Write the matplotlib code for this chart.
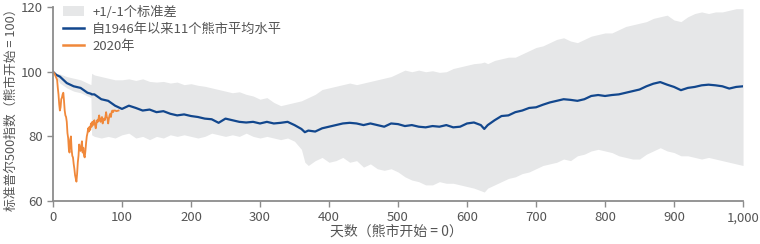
import matplotlib
matplotlib.use("Agg")
import matplotlib.pyplot as plt
from matplotlib import ticker
from matplotlib.patches import Patch
from matplotlib.lines import Line2D

plt.rcParams['font.family'] = ['Noto Sans CJK SC', 'DejaVu Sans']

# +1/-1 标准差区间 (天数, 上限, 下限)
band_days = [0, 5, 10, 20, 30, 40, 50, 55, 56, 60, 70, 80, 90, 100, 110, 120, 130, 140, 150,
             160, 170, 180, 190, 200, 210, 220, 230, 240, 250, 260, 270, 280, 290, 300,
             310, 320, 330, 340, 350, 360, 365, 370, 380, 390, 400, 410, 420, 430, 440,
             450, 460, 470, 480, 490, 500, 510, 520, 530, 540, 550, 560, 570, 580, 590,
             600, 610, 620, 625, 630, 640, 650, 660, 670, 680, 690, 700, 710, 720, 730,
             740, 750, 760, 770, 780, 790, 800, 810, 820, 830, 840, 850, 860, 870, 880,
             890, 900, 910, 920, 930, 940, 950, 960, 970, 980, 990, 1000]
band_upper = [100, 99.5, 99.3, 98.5, 98, 97.5, 96.5, 96, 99.5, 99, 98.5, 98, 97.5, 97.5, 97.8,
              97.3, 97.8, 97, 96.8, 97, 96.5, 96.8, 96, 96.3, 95.8, 95.5, 95, 94.5, 94, 93.5,
              93.8, 93, 92.5, 91.5, 92, 90.5, 89.5, 90, 90.5, 91, 91.5, 92, 93, 94.5, 95,
              95.5, 96, 96.5, 96, 96.5, 97, 97.5, 98, 98.5, 99.5, 100.5, 100, 100.5, 100,
              100.3, 99.8, 100, 101, 101.5, 102, 102.5, 102.7, 103, 102.5, 103.5, 104, 104.5,
              104.5, 105.5, 106.5, 107.5, 108, 109, 110, 110.5, 109.5, 109, 110, 111, 111.5,
              112, 112, 113, 114, 114.5, 115, 115.5, 116.5, 117, 117.5, 116, 115.5, 117, 118,
              118.5, 118, 118.5, 118.5, 119, 119.5, 119.5]
band_lower = [100, 98, 96.5, 95, 94, 93.5, 92.5, 92, 80.5, 80, 79.5, 80, 79.5, 80.5, 81,
              79.5, 80, 79, 80, 79.5, 80.5, 80, 80.5, 80, 79.5, 80, 81, 80.5, 80, 80.5,
              80, 81, 80, 79.5, 80, 79.5, 79, 79.5, 78.5, 76, 72, 71, 72.5, 73.5, 72,
              72.5, 73.5, 72, 72.5, 70.5, 71.5, 70, 69.5, 70, 69, 67.5, 66.5, 66, 65,
              65, 66, 65.5, 65.5, 65, 64.5, 64, 63.2, 62.8, 64, 65, 66, 67, 67.5, 68.5,
              69, 70, 71, 71.5, 72, 73, 72.5, 74, 74.5, 75.5, 76, 75.5, 75, 74, 73.5,
              73, 73, 74.5, 75.5, 76.5, 75.5, 75, 74, 74, 73.5, 73, 73.5, 73, 72.5, 72,
              71.5, 71]

# 自1946年以来11个熊市平均水平
mean_days = band_days
mean_level = [100, 99, 98.5, 96.5, 95.5, 95, 93.5, 93.2, 93, 93, 91.5, 91, 89.5, 88.5, 89.5,
              88.8, 88, 88.3, 87.5, 87.8, 87, 86.5, 86.8, 86.3, 86, 85.5, 85.3, 84.2, 85.5,
              85, 84.5, 84.3, 84.5, 84, 84.5, 84, 84.2, 84.5, 83.5, 82.3, 81.3, 81.8, 81.5,
              82.5, 83, 83.5, 84, 84.2, 84, 83.5, 84, 83.5, 83, 84, 83.8, 83.2, 83.5, 83,
              82.8, 83.2, 83, 83.5, 82.8, 83, 84, 84.3, 83.5, 82.3, 83.5, 85, 86.3, 86.5,
              87.5, 88, 88.8, 89, 89.8, 90.5, 91, 91.5, 91.3, 91, 91.5, 92.5, 92.8, 92.5,
              92.8, 93, 93.5, 94, 94.5, 95.5, 96.3, 96.8, 96, 95.3, 94.3, 95, 95.3, 95.8,
              96, 95.8, 95.5, 94.8, 95.3, 95.5]

# 2020年
y2020_days = [0, 2, 4, 6, 7, 8, 9, 10, 11, 12, 13, 14, 15, 16, 17, 18, 19, 20, 21, 22, 23,
              24, 25, 26, 27, 28, 29, 30, 31, 32, 33, 34, 35, 36, 37, 38, 39, 40, 41, 42, 43,
              44, 45, 46, 47, 48, 49, 50, 51, 52, 53, 54, 55, 56, 57, 58, 59, 60, 61, 62, 63,
              64, 65, 66, 67, 68, 69, 70, 71, 72, 73, 74, 75, 76, 77, 78, 79, 80, 81, 82, 83,
              84, 85, 86, 87, 88, 90, 92, 95]
y2020_level = [100, 99.5, 98.5, 97.5, 95, 93, 90, 88, 89, 91.5, 92, 93, 93.5, 91, 88, 86.5,
               86, 84.5, 81, 79.5, 76, 75, 79, 80, 76, 74, 73.5, 71.5, 70, 68, 67, 66, 68.5,
               72, 74, 77.5, 76, 75.5, 77, 78.5, 75, 76.5, 74, 73.5, 75.5, 78, 80, 81, 82.5,
               81.5, 83, 82, 84, 83, 84.5, 83.5, 84.5, 85, 83.5, 82.5, 84, 85, 84.5, 85.5,
               86.5, 85, 84.5, 85.5, 86, 84, 85, 85.5, 85, 86, 87.5, 86, 85.5, 84, 85.5, 86.5,
               87, 86, 87.5, 88, 87.5, 88, 88, 87.8, 88]

band_color = '#e6e7e8'
blue = '#12478d'
orange = '#f0883a'
text_color = '#555555'
axis_color = '#8c8c8c'

fig = plt.figure(figsize=(7.6, 2.44), dpi=100)
ax = fig.add_axes([0.0697, 0.176, 0.908, 0.795])

ax.fill_between(band_days, band_lower, band_upper, color=band_color, linewidth=0)
ax.plot(mean_days, mean_level, color=blue, linewidth=1.6)
ax.plot(y2020_days, y2020_level, color=orange, linewidth=1.3)

ax.set_xlim(0, 1000)
ax.set_ylim(60, 120)
ax.set_xticks(range(0, 1001, 100))
ax.set_yticks([60, 80, 100, 120])
ax.xaxis.set_major_formatter(ticker.FuncFormatter(lambda v, p: f"{int(v):,}"))

for s in ['top', 'right']:
    ax.spines[s].set_visible(False)
for s in ['left', 'bottom']:
    ax.spines[s].set_color(axis_color)
    ax.spines[s].set_linewidth(1.3)
ax.tick_params(colors=axis_color, labelcolor=text_color, labelsize=9.5, length=4, width=1)

# 轴标题直接放在图上的位置
fig.text(396 / 760, 1 - 232 / 244, '天数（熊市开始 = 0）', color=text_color, fontsize=10,
         ha='center', va='center')
fig.text(11 / 760, 1 - 107 / 244, '标准普尔500指数（熊市开始 = 100）', color=text_color,
         fontsize=9.2, ha='center', va='center', rotation=90)

handles = [Patch(facecolor=band_color, edgecolor='none'),
           Line2D([], [], color=blue, linewidth=1.8),
           Line2D([], [], color=orange, linewidth=1.8)]
labels = ['+1/-1个标准差', '自1946年以来11个熊市平均水平', '2020年']
leg = ax.legend(handles, labels, loc='upper left', bbox_to_anchor=(0.007, 1.035), frameon=False,
                fontsize=9.5, handlelength=1.6, handletextpad=0.6, labelspacing=0.3,
                borderaxespad=0)
for t in leg.get_texts():
    t.set_color(text_color)

fig.savefig('out.png', dpi=100)
